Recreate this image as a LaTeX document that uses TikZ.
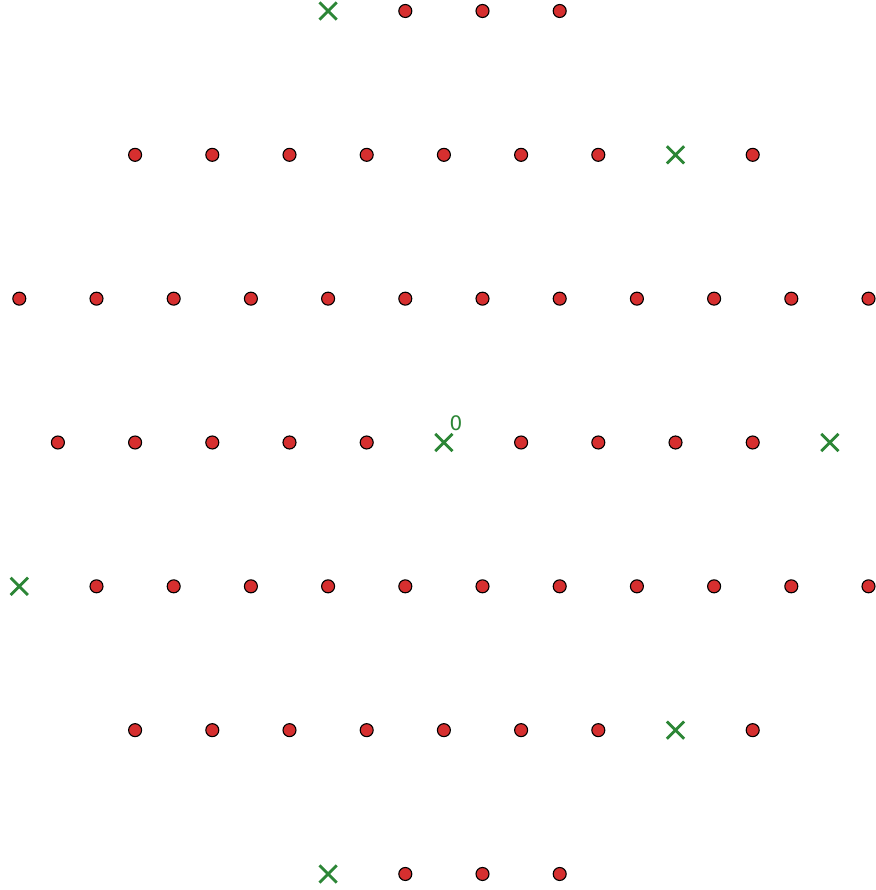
\documentclass[tikz,border=0pt]{standalone}
\usepackage{fontspec}
\setmainfont{DejaVu Sans}
\definecolor{dotred}{HTML}{D62F2F}
\definecolor{crossgreen}{HTML}{2C8636}
\usetikzlibrary{shapes.misc}
\tikzset{
  latdot/.style={circle,draw=black,fill=dotred,line width=1.1pt,minimum size=13pt,inner sep=0pt},
  latcross/.style={cross out,draw=crossgreen,line width=2.8pt,minimum size=14.5pt,inner sep=0pt},
  origlabel/.style={text=crossgreen,font=\fontsize{20}{24}\selectfont,inner sep=0pt}
}
\begin{document}
\begin{tikzpicture}[x=1pt,y=-1pt]
\useasboundingbox (0,0) rectangle (875,890);
\def\colx#1{19.3+38.6*#1}
\def\rowy#1{11+143.83*#1}
% row 0
\node[latcross] (x0) at ({\colx{8}},{\rowy{0}}) {};
\foreach \c in {10,12,14} \node[latdot] (d0-\c) at ({\colx{\c}},{\rowy{0}}) {};
% row 1
\foreach \c in {3,5,...,15,19} \node[latdot] (d1-\c) at ({\colx{\c}},{\rowy{1}}) {};
\node[latcross] (x1) at ({\colx{17}},{\rowy{1}}) {};
% row 2
\foreach \c in {0,2,...,22} \node[latdot] (d2-\c) at ({\colx{\c}},{\rowy{2}}) {};
% row 3
\foreach \c in {1,3,5,7,9,13,15,17,19} \node[latdot] (d3-\c) at ({\colx{\c}},{\rowy{3}}) {};
\node[latcross] (origin) at ({\colx{11}},{\rowy{3}}) {};
\node[latcross] (x3) at ({\colx{21}},{\rowy{3}}) {};
\node[origlabel] (lab) at ([xshift=12,yshift=19]origin.center) {0};
% row 4
\node[latcross] (x4) at ({\colx{0}},{\rowy{4}}) {};
\foreach \c in {2,4,...,22} \node[latdot] (d4-\c) at ({\colx{\c}},{\rowy{4}}) {};
% row 5
\foreach \c in {3,5,...,15,19} \node[latdot] (d5-\c) at ({\colx{\c}},{\rowy{5}}) {};
\node[latcross] (x5) at ({\colx{17}},{\rowy{5}}) {};
% row 6
\node[latcross] (x6) at ({\colx{8}},{\rowy{6}}) {};
\foreach \c in {10,12,14} \node[latdot] (d6-\c) at ({\colx{\c}},{\rowy{6}}) {};
\end{tikzpicture}
\end{document}
